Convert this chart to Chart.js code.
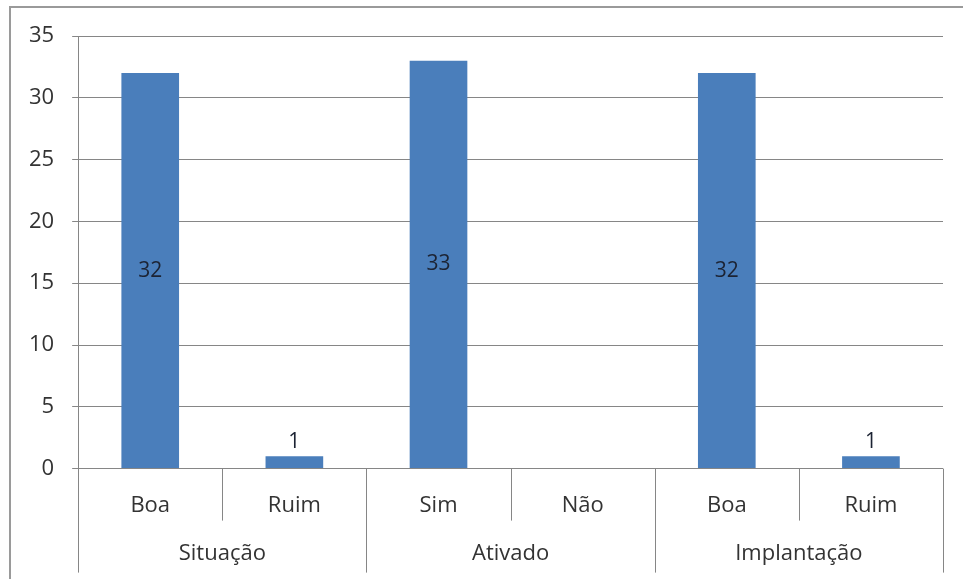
<!DOCTYPE html>
<html>
<head>
<meta charset="utf-8">
<script src="https://cdn.jsdelivr.net/npm/chart.js@4/dist/chart.umd.min.js"></script>
<style>
  html, body { margin: 0; padding: 0; background: #fff; }
  #wrap { position: relative; width: 963px; height: 579px; }
</style>
</head>
<body>
<div id="wrap"><canvas id="c" width="963" height="579"></canvas></div>
<script>
// Survey answers, grouped by question
const groups = ['Situação', 'Ativado', 'Implantação'];
const groupSizes = [2, 2, 2];
const categories = ['Boa', 'Ruim', 'Sim', 'Não', 'Boa', 'Ruim'];
const counts = [32, 1, 33, null, 32, 1];
const yMax = 35;
const yStep = 5;

const FONT = '"Open Sans", sans-serif';
const LINE = '#868686';
const TEXT = '#333333';

// Outer frame of the chart object
const framePlugin = {
  id: 'frame',
  beforeDraw(chart) {
    const ctx = chart.ctx;
    ctx.save();
    ctx.strokeStyle = '#9a9a9a';
    ctx.lineWidth = 2;
    ctx.beginPath();
    ctx.moveTo(10, chart.height + 2);
    ctx.lineTo(10, 7);
    ctx.lineTo(chart.width + 2, 7);
    ctx.stroke();
    ctx.restore();
  }
};

// Multi-level category axis: separators and group names
const groupAxisPlugin = {
  id: 'groupAxis',
  afterDraw(chart) {
    const ctx = chart.ctx;
    const x = chart.scales.x;
    const bottom = chart.chartArea.bottom;
    const n = categories.length;
    const step = (x.right - x.left) / n;
    const edge = i => x.getPixelForValue(0) - step / 2 + i * step;
    ctx.save();
    ctx.strokeStyle = LINE;
    ctx.lineWidth = 1;
    const groupEdges = new Set([0]);
    let acc = 0;
    groupSizes.forEach(s => { acc += s; groupEdges.add(acc); });
    for (let i = 0; i <= n; i++) {
      const px = Math.round(edge(i)) + 0.5;
      const len = groupEdges.has(i) ? 104 : 52;
      ctx.beginPath();
      ctx.moveTo(px, bottom);
      ctx.lineTo(px, bottom + len);
      ctx.stroke();
    }
    ctx.fillStyle = TEXT;
    ctx.font = '22px ' + FONT;
    ctx.textAlign = 'center';
    ctx.textBaseline = 'middle';
    let start = 0;
    groups.forEach((g, gi) => {
      const end = start + groupSizes[gi];
      ctx.fillText(g, (edge(start) + edge(end)) / 2, bottom + 85);
      start = end;
    });
    ctx.restore();
  }
};

// Value labels on the bars
const valueLabelPlugin = {
  id: 'valueLabels',
  afterDatasetsDraw(chart) {
    const ctx = chart.ctx;
    const meta = chart.getDatasetMeta(0);
    ctx.save();
    ctx.fillStyle = '#1c2333';
    ctx.font = '21px ' + FONT;
    ctx.textAlign = 'center';
    ctx.textBaseline = 'middle';
    meta.data.forEach((bar, i) => {
      const v = counts[i];
      if (v === null || v === undefined) return;
      const h = bar.base - bar.y;
      const y = h > 30 ? (bar.y + bar.base) / 2 : bar.y - 14;
      ctx.fillText(String(v), bar.x, y);
    });
    ctx.restore();
  }
};

new Chart(document.getElementById('c'), {
  type: 'bar',
  data: {
    labels: categories,
    datasets: [{
      data: counts,
      backgroundColor: '#4a7ebb',
      borderWidth: 0,
      barPercentage: 0.4,
      categoryPercentage: 1
    }]
  },
  options: {
    responsive: false,
    animation: false,
    plugins: { legend: { display: false }, tooltip: { enabled: false } },
    layout: { padding: { top: 36, right: 20, bottom: 44, left: 11 } },
    scales: {
      x: {
        grid: { display: false },
        border: { display: false },
        ticks: { color: TEXT, font: { family: FONT, size: 22 }, padding: 16 }
      },
      y: {
        min: 0,
        max: yMax,
        ticks: { stepSize: yStep, color: TEXT, font: { family: FONT, size: 22 }, padding: 18 },
        grid: { color: LINE, lineWidth: 1, tickLength: 6, tickColor: LINE },
        border: { display: true, color: LINE, width: 1 }
      }
    }
  },
  plugins: [framePlugin, groupAxisPlugin, valueLabelPlugin]
});
</script>
</body>
</html>
